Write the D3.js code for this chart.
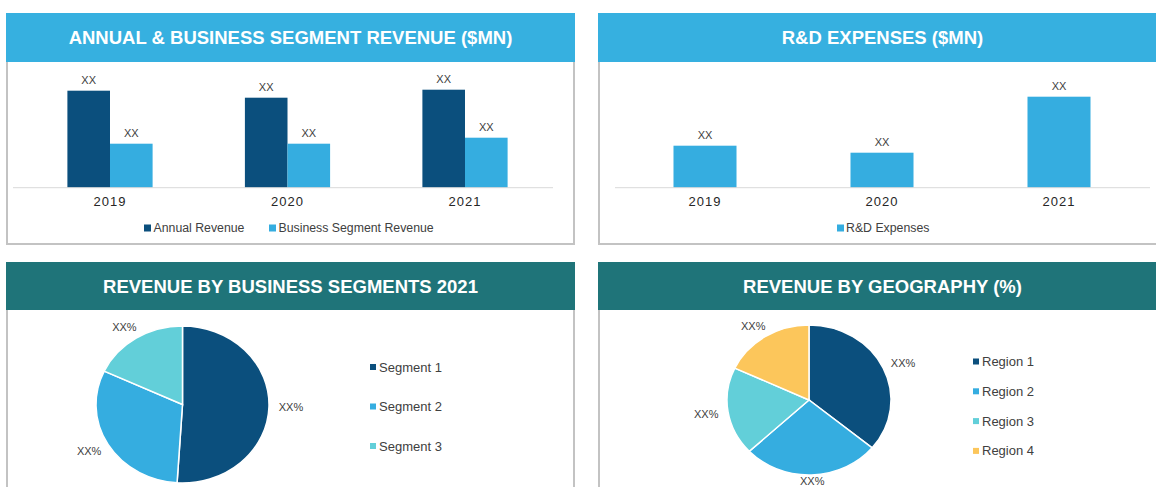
<!DOCTYPE html>
<html><head><meta charset="utf-8">
<script src="https://cdn.jsdelivr.net/npm/d3@7"></script>
<style>
html,body{margin:0;padding:0;background:#fff;}
svg{display:block;font-family:"Liberation Sans",Arial,sans-serif;}
</style></head>
<body>
<svg id="c" width="1156" height="487"></svg>
<script>
// ---- data ----
const years = ["2019", "2020", "2021"];
const annualRevenue = [97, 90, 98];
const segmentRevenue = [44, 44, 50];
const rdExpenses = [42, 35, 91];
const barSeries = ["Annual Revenue", "Business Segment Revenue"];
const rdSeries = ["R&D Expenses"];
const segmentNames = ["Segment 1", "Segment 2", "Segment 3"];
const segmentShares = [51, 31, 18];
const regionNames = ["Region 1", "Region 2", "Region 3", "Region 4"];
const regionShares = [36, 27, 19, 18];
const valueLabel = "XX";
const pctLabel = "XX%";
const titles = ["ANNUAL & BUSINESS SEGMENT REVENUE ($MN)", "R&D EXPENSES ($MN)",
                "REVENUE BY BUSINESS SEGMENTS 2021", "REVENUE BY GEOGRAPHY (%)"];

// ---- styles ----
const NAVY = "#0b4f7d", BLUE = "#35ade0", TEAL = "#62cfd9", YELLOW = "#fcc65b";
const HEAD_BLUE = "#36b0e0", HEAD_TEAL = "#1f7479";
const TXT = "#404040", BORDER = "#c3c3c3";

const svg = d3.select("#c");

function panel(x0, x1, y0, y1, headBottom, color, title, bottomBorder) {
  const g = svg.append("g");
  g.append("path")
    .attr("d", bottomBorder
      ? `M${x0+1},${headBottom} V${y1} H${x1-1} V${headBottom}`
      : `M${x0+1},${headBottom} V${y1+5} M${x1-1},${headBottom} V${y1+5}`)
    .attr("fill", "none").attr("stroke", BORDER).attr("stroke-width", 2);
  g.append("rect").attr("x", x0).attr("y", y0).attr("width", x1 - x0).attr("height", headBottom - y0)
    .attr("fill", color);
  g.append("text").attr("x", (x0 + x1) / 2).attr("y", (y0 + headBottom) / 2 + 6.5)
    .attr("text-anchor", "middle").attr("fill", "#fff").attr("font-weight", "bold")
    .attr("font-size", 18.5).text(title);
}

panel(6, 575, 13, 244, 62, HEAD_BLUE, titles[0], true);
panel(598, 1167, 13, 244, 62, HEAD_BLUE, titles[1], true);
panel(6, 575, 262, 487, 310, HEAD_TEAL, titles[2], false);
panel(598, 1167, 262, 487, 310, HEAD_TEAL, titles[3], false);

// ---- bar charts ----
const y = d3.scaleLinear().domain([0, 100]).range([187.7, 87.7]);

function yearAxis(x, ax0, ax1) {
  svg.append("line").attr("x1", ax0).attr("x2", ax1).attr("y1", y(0)).attr("y2", y(0))
    .attr("stroke", "#d9d9d9").attr("stroke-width", 1);
  const axis = d3.axisBottom(x).tickSize(0).tickPadding(0);
  const ga = svg.append("g").attr("transform", `translate(0,${y(0)})`).call(axis);
  ga.select(".domain").remove();
  ga.selectAll("text").attr("dy", 0).attr("y", 18).attr("fill", "#262626")
    .attr("font-size", 13).attr("letter-spacing", 1)
    .attr("font-family", "'Liberation Sans',Arial,sans-serif");
}

// chart 1
const x1 = d3.scaleBand().domain(years).range([21.25, 553.75]).paddingInner(0.52).paddingOuter(0.26);
const xs = d3.scaleBand().domain(barSeries).range([0, x1.bandwidth()]);
const c1 = d3.scaleOrdinal().domain(barSeries).range([NAVY, BLUE]);
const rows1 = years.map((yr, i) => ({ yr, vals: [annualRevenue[i], segmentRevenue[i]] }));
const grp = svg.append("g").selectAll("g").data(rows1).join("g")
  .attr("transform", d => `translate(${x1(d.yr)},0)`);
grp.selectAll("rect").data(d => d.vals.map((v, k) => ({ s: barSeries[k], v }))).join("rect")
  .attr("x", d => xs(d.s)).attr("width", xs.bandwidth())
  .attr("y", d => y(d.v)).attr("height", d => y(0) - y(d.v)).attr("fill", d => c1(d.s));
grp.selectAll("text").data(d => d.vals.map((v, k) => ({ s: barSeries[k], v }))).join("text")
  .attr("x", d => xs(d.s) + xs.bandwidth() / 2).attr("y", d => y(d.v) - 7)
  .attr("text-anchor", "middle").attr("font-size", 11).attr("fill", TXT).text(valueLabel);
yearAxis(x1, 13, 553);

// legend chart 1
const leg1 = [{ s: barSeries[0], x: 144 }, { s: barSeries[1], x: 269 }];
leg1.forEach(d => {
  svg.append("rect").attr("x", d.x).attr("y", 224.5).attr("width", 7).attr("height", 7).attr("fill", c1(d.s));
  svg.append("text").attr("x", d.x + 9.5).attr("y", 232.3).attr("font-size", 12.3).attr("fill", TXT).text(d.s);
});

// chart 2
const x2 = d3.scaleBand().domain(years).range([616.5, 1147.5]).paddingInner(0.644).paddingOuter(0.322);
svg.append("g").selectAll("rect").data(rdExpenses).join("rect")
  .attr("x", (d, i) => x2(years[i])).attr("width", x2.bandwidth())
  .attr("y", d => y(d)).attr("height", d => y(0) - y(d)).attr("fill", BLUE);
svg.append("g").selectAll("text").data(rdExpenses).join("text")
  .attr("x", (d, i) => x2(years[i]) + x2.bandwidth() / 2).attr("y", d => y(d) - 7)
  .attr("text-anchor", "middle").attr("font-size", 11).attr("fill", TXT).text(valueLabel);
yearAxis(x2, 615, 1150);
svg.append("rect").attr("x", 837).attr("y", 224.5).attr("width", 7).attr("height", 7).attr("fill", BLUE);
svg.append("text").attr("x", 846).attr("y", 232.3).attr("font-size", 12.3).attr("fill", TXT).text(rdSeries[0]);

// ---- pies ----
function pieChart(names, vals, colors, cx, cy, rx, ry, legX, legY0, legStep) {
  const pie = d3.pie().sort(null).value(d => d)(vals);
  const arc = d3.arc().innerRadius(0).outerRadius(ry);
  const g = svg.append("g").attr("transform", `translate(${cx},${cy}) scale(${rx / ry},1)`);
  g.selectAll("path").data(pie).join("path").attr("d", arc)
    .attr("fill", (d, i) => colors[i]).attr("stroke", "#fff").attr("stroke-width", 1.5)
    .attr("vector-effect", "non-scaling-stroke");
  const lg = svg.append("g");
  pie.forEach(d => {
    const a = (d.startAngle + d.endAngle) / 2;
    const s = Math.sin(a), c = -Math.cos(a);
    let lx = cx + s * rx + s * 22;
    let ly = cy + c * ry + c * 13;
    ly = Math.min(ly, 481);
    lg.append("text").attr("x", lx).attr("y", ly + 4).attr("text-anchor", "middle")
      .attr("font-size", 11).attr("fill", TXT).text(pctLabel);
  });
  names.forEach((n, i) => {
    const yy = legY0 + i * legStep;
    svg.append("rect").attr("x", legX).attr("y", yy - 3).attr("width", 6).attr("height", 6).attr("fill", colors[i]);
    svg.append("text").attr("x", legX + 9).attr("y", yy + 4.5).attr("font-size", 13).attr("fill", TXT).text(n);
  });
}
pieChart(segmentNames, segmentShares, [NAVY, BLUE, TEAL], 182.5, 404.5, 86.5, 78.5, 370, 367, 39.5);
pieChart(regionNames, regionShares, [NAVY, BLUE, TEAL, YELLOW], 809, 400, 82, 75, 973, 361.5, 29.8);
</script>
</body></html>
